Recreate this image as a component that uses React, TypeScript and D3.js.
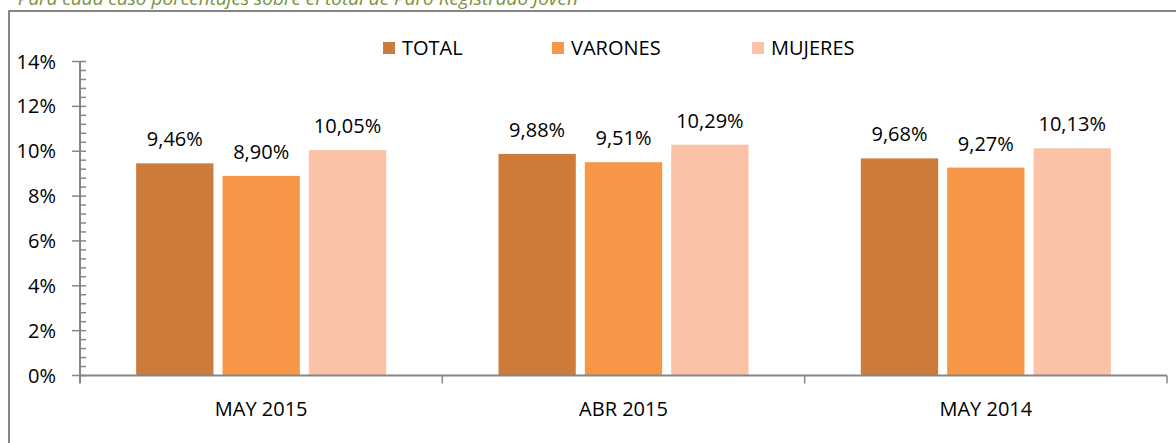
import React from "react";
import * as d3 from "d3";

const categories = ["MAY 2015", "ABR 2015", "MAY 2014"];
const seriesNames = ["TOTAL", "VARONES", "MUJERES"];
const totalValues = [9.46, 9.88, 9.68];
const varonesValues = [8.9, 9.51, 9.27];
const mujeresValues = [10.05, 10.29, 10.13];
const yTicks = [0, 2, 4, 6, 8, 10, 12, 14];
const colors = ["#CD7B3A", "#F79646", "#FAC3A8"];
const subtitle = "Para cada caso porcentajes sobre el total de Paro Registrado Joven";

const W = 1176;
const H = 443;
const FONT = "'Open Sans', 'Noto Sans', sans-serif";

export default function App() {
  const seriesValues = [totalValues, varonesValues, mujeresValues];
  const y = d3.scaleLinear().domain([0, 14]).range([375.5, 61.5]);
  const x = d3.scaleBand<string>().domain(categories).range([80, 1167]).padding(0);
  const xs = d3
    .scaleBand<string>()
    .domain(seriesNames)
    .range([0, x.bandwidth()])
    .paddingInner(0.105)
    .paddingOuter(0.65);
  const minorTicks = d3.range(0, 14.0001, 0.4).filter((v) => Math.abs(v / 2 - Math.round(v / 2)) > 1e-6);
  const fmt = (v: number) => v.toFixed(2).replace(".", ",") + "%";
  const legendX = [383, 552, 752];
  const axisColor = "#868686";

  return (
    <svg
      width={W}
      height={H}
      style={{ position: "absolute", left: 0, top: 0, background: "#fff" }}
      fontFamily={FONT}
    >
      <text x={578} y={5} textAnchor="end" fontSize={19} fontStyle="italic" fill="#77933C">
        {subtitle}
      </text>
      <rect x={9} y={11} width={W + 20} height={H + 20} fill="#fff" stroke={axisColor} strokeWidth={2} />

      {/* bars */}
      {categories.map((c, ci) => (
        <g key={c} transform={`translate(${x(c)},0)`}>
          {seriesNames.map((s, si) => {
            const v = seriesValues[si][ci];
            const bx = xs(s) as number;
            return (
              <g key={s}>
                <rect x={bx} y={y(v)} width={xs.bandwidth()} height={y(0) - y(v)} fill={colors[si]} />
                <text x={bx + xs.bandwidth() / 2} y={y(v) - 17} textAnchor="middle" fontSize={20} fill="#000">
                  {fmt(v)}
                </text>
              </g>
            );
          })}
        </g>
      ))}

      {/* y axis */}
      <line x1={80} x2={80} y1={y(14)} y2={y(0) + 8} stroke={axisColor} strokeWidth={2} />
      {minorTicks.map((t) => (
        <line key={"m" + t} x1={80} x2={86} y1={y(t)} y2={y(t)} stroke={axisColor} strokeWidth={1.5} />
      ))}
      {yTicks.map((t) => (
        <g key={t}>
          <line x1={72} x2={86} y1={y(t)} y2={y(t)} stroke={axisColor} strokeWidth={1.5} />
          <text x={56} y={y(t) + 7} textAnchor="end" fontSize={20} fill="#000">
            {t}%
          </text>
        </g>
      ))}

      {/* x axis */}
      <line x1={80} x2={1167} y1={y(0)} y2={y(0)} stroke={axisColor} strokeWidth={2} />
      {categories.map((c) => (
        <g key={c}>
          <line
            x1={(x(c) as number) + x.bandwidth()}
            x2={(x(c) as number) + x.bandwidth()}
            y1={y(0)}
            y2={y(0) + 8}
            stroke={axisColor}
            strokeWidth={1.5}
          />
          <text x={(x(c) as number) + x.bandwidth() / 2} y={416} textAnchor="middle" fontSize={20} fill="#000">
            {c}
          </text>
        </g>
      ))}

      {/* legend */}
      {seriesNames.map((s, i) => (
        <g key={s} transform={`translate(${legendX[i]},0)`}>
          <rect x={0} y={42} width={12} height={12} fill={colors[i]} />
          <text x={19} y={55} fontSize={20} fill="#000">
            {s}
          </text>
        </g>
      ))}
    </svg>
  );
}
